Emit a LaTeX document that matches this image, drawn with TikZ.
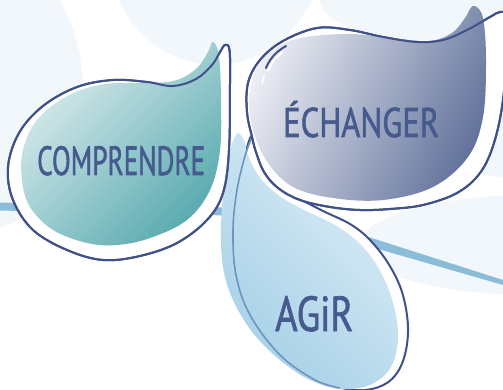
\documentclass[tikz,border=0pt]{standalone}
\usepackage{fontspec}
\setmainfont{PT Sans}
\newfontfamily\handfont{PT Sans}[FakeBold=1.6]
\definecolor{navy}{HTML}{3F5188}
\definecolor{txt}{HTML}{475A8E}
\definecolor{bgblue}{HTML}{F2F7FC}
\definecolor{lineblue}{HTML}{8CBDD8}
\definecolor{tealA}{HTML}{DCECEE}
\definecolor{tealB}{HTML}{5AABB0}
\definecolor{slateA}{HTML}{ECEEF4}
\definecolor{slateB}{HTML}{63739C}
\definecolor{skyA}{HTML}{A6D0E7}
\definecolor{skyB}{HTML}{DDEEF7}
\definecolor{midblue}{HTML}{6E93BE}
\begin{document}
\begin{tikzpicture}[x=1pt,y=-1pt,
  bubble/.style={fill=white,draw=navy,line width=2pt},
  outl/.style={draw=navy,line width=2pt},
  lbl/.style={inner sep=0pt,anchor=base west,text=txt,font=\handfont}]
\useasboundingbox (0,0) rectangle (503,390);
\clip (0,0) rectangle (503,390);
\fill[white] (0,0) rectangle (503,390);
% faint background blobs
\fill[bgblue] (215,-60) ellipse [x radius=110,y radius=125];
\fill[bgblue] (-20,90) ellipse [x radius=103,y radius=140];
\fill[bgblue] (430,0) ellipse [x radius=110,y radius=40];
\fill[bgblue] (530,245) ellipse [x radius=170,y radius=50];
\fill[bgblue] (540,145) ellipse [x radius=100,y radius=35];
% diagonal band
\fill[lineblue] (0,202.5) -- (250,208) -- (250,216) -- (0,210.5) -- cycle;
\fill[lineblue] (355,232.7) -- (503,280) -- (503,285) -- (355,242.3) -- cycle;
% AGIR drop
\path[bubble] plot[smooth cycle,tension=0.6] coordinates {(252,136) (245,155) (237,190) (233,230) (236,275) (250,315) (280,355) (315,380) (347,389) (372,389) (392,379) (404,358) (408,327) (402,292) (388,263) (369,239) (350,224) (323,211) (300,199) (283,189) (268,174) (258,155)};
\shade[left color=skyB,right color=skyA,shading angle=-45] plot[smooth cycle,tension=0.6] coordinates {(238,133) (244,141) (249,158) (261,179) (281,197) (306,211) (333,224) (357,241) (376,264) (391,296) (398,333) (392,365) (372,384) (342,389) (310,380) (280,360) (253,333) (233,300) (223,267) (221,227) (224,187) (229,157) (233,141)};
\draw[midblue,line width=1.6pt] plot[smooth,tension=0.6] coordinates {(252,137) (245,156) (237,190) (233,230) (236,275) (250,315) (280,355) (315,380) (340,388)};
% COMPRENDRE drop
\path[bubble] plot[smooth cycle,tension=0.6] coordinates {(225,45) (229.5,50) (230,83) (229,150) (223,193) (207,220) (177,243) (140,256) (103,260) (67,250) (33,230) (13,200) (8,167) (19,133) (43,106) (77,87) (113,80) (147,82) (173,86) (196,79) (212,65) (220,52)};
\shade[top color=tealA,bottom color=tealB,shading angle=45] plot[smooth cycle,tension=0.6] coordinates {(213,42) (219,56) (221,100) (220,150) (210,190) (187,220) (150,238) (117,245) (87,243) (53,230) (30,207) (22,180) (23,150) (37,120) (67,96) (105,84) (150,83) (177,80) (197,68) (208,52)};
\draw[outl] plot[smooth cycle,tension=0.6] coordinates {(225,45) (229.5,50) (230,83) (229,150) (223,193) (207,220) (177,243) (140,256) (103,260) (67,250) (33,230) (13,200) (8,167) (19,133) (43,106) (77,87) (113,80) (147,82) (173,86) (196,79) (212,65) (220,52)};
% ECHANGER drop
\path[bubble] plot[smooth cycle,tension=0.6] coordinates {(252,137) (247,112) (248,83) (260,60) (283,41) (317,28) (350,30) (383,37) (417,42) (443,40) (467,30) (490,17) (500,12) (507,16) (507,45) (503,100) (494,143) (480,173) (457,193) (423,205) (390,209) (360,210) (330,207) (300,200) (278,188) (264,172) (256,152)};
\shade[top color=slateA,bottom color=slateB,shading angle=65] plot[smooth cycle,tension=0.6] coordinates {(475,6) (483,18) (486,60) (483,117) (468,157) (433,187) (383,200) (333,198) (293,187) (268,163) (254,133) (249,100) (257,67) (273,50) (300,38) (350,34) (400,39) (430,41) (452,33) (465,18) (470,9)};
\draw[outl] plot[smooth cycle,tension=0.6] coordinates {(252,137) (247,112) (248,83) (260,60) (283,41) (317,28) (350,30) (383,37) (417,42) (443,40) (467,30) (490,17) (500,12) (507,16) (507,45) (503,100) (494,143) (480,173) (457,193) (423,205) (390,209) (360,210) (330,207) (300,200) (278,188) (264,172) (256,152)};
% highlight
\draw[white,line width=1.8pt,line cap=round] (283,52) .. controls (276,57) and (271,63) .. (268,71);
\draw[navy,line width=2pt,line cap=round] (286,46) .. controls (277,51) and (270,58) .. (266,68);
\draw[white,line width=1.8pt,line cap=round] (264,76) -- (262,83);
% labels
\node[lbl] (comprendre) at (37,175) {\resizebox{168pt}{29pt}{COMPRENDRE}};
\node[lbl] (echanger) at (283,137) {\resizebox{156pt}{36pt}{ÉCHANGER}};
\node[lbl] (agir) at (275,331) {\resizebox{78pt}{35pt}{AGiR}};
\end{tikzpicture}
\end{document}
